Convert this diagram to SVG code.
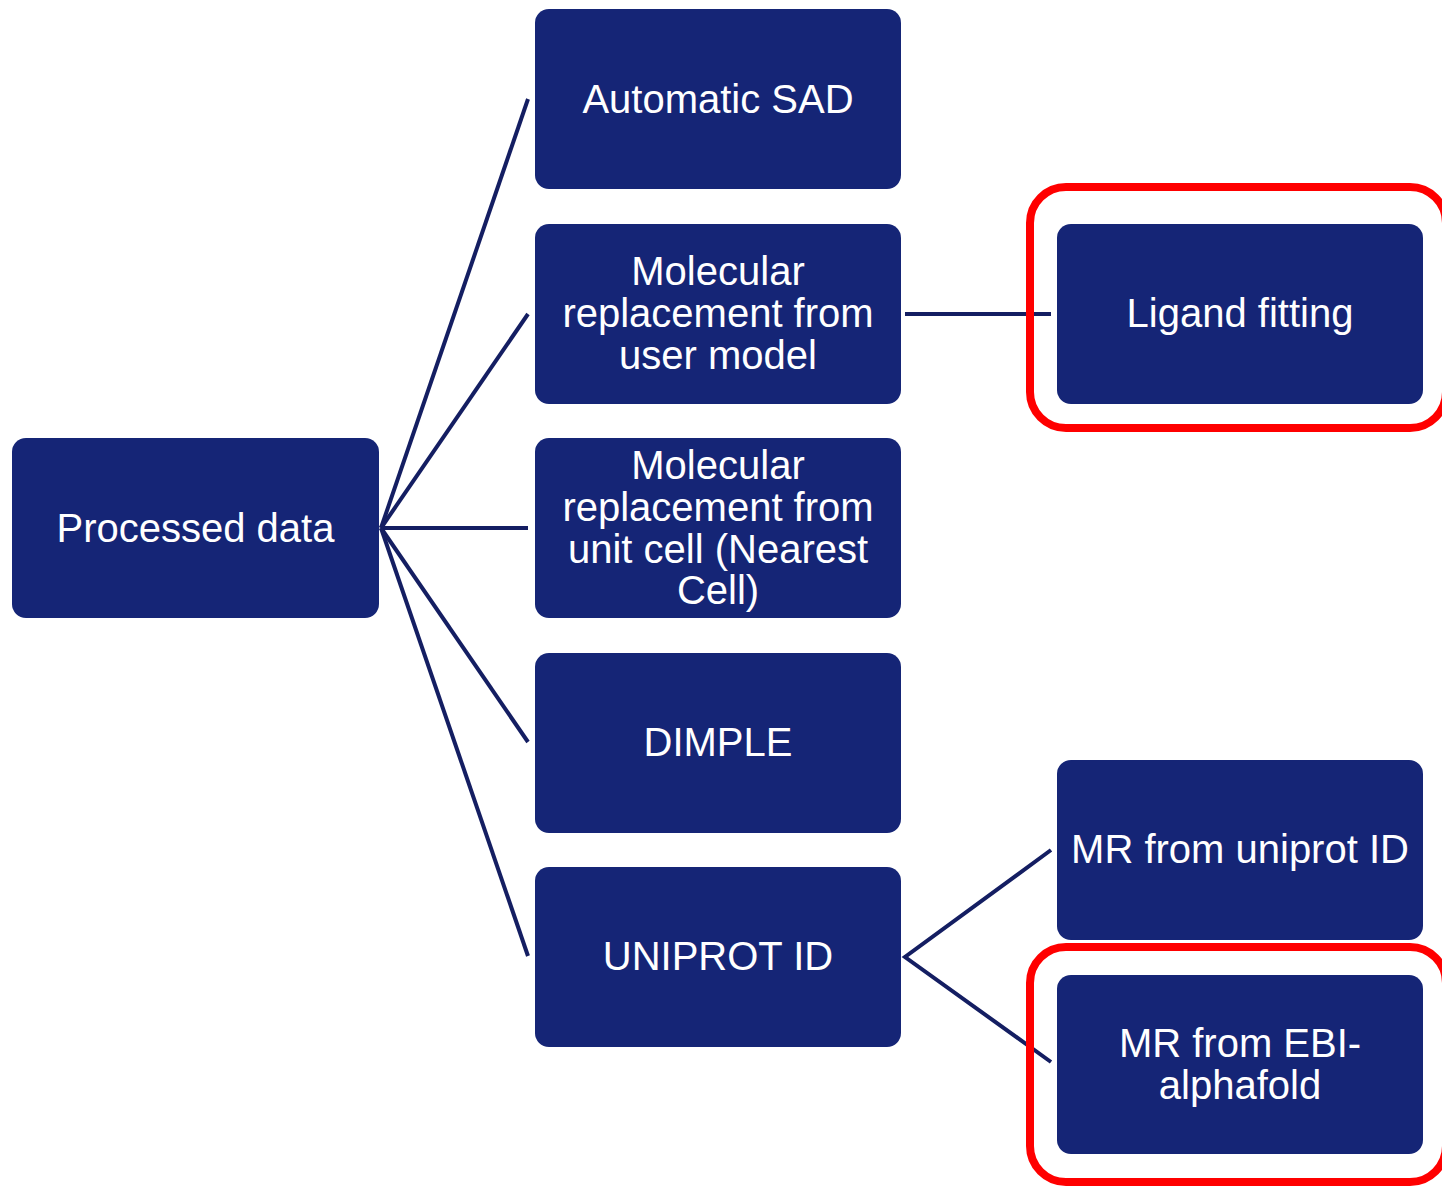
<svg xmlns="http://www.w3.org/2000/svg" width="1442" height="1186" viewBox="0 0 1442 1186">
<style>
.box{fill:#152576}
.lbl{font-family:"Liberation Sans",Arial,sans-serif;font-size:40px;fill:#ffffff;text-anchor:middle}
.con{stroke:#141e62;stroke-width:4;fill:none}
.hl{fill:none;stroke:#ff0000;stroke-width:8}
</style>
<rect width="1442" height="1186" fill="#ffffff"/>
<g id="connectors">
<line class="con" x1="381" y1="528" x2="528" y2="99"/>
<line class="con" x1="381" y1="528" x2="528" y2="314"/>
<line class="con" x1="381" y1="528" x2="528" y2="528"/>
<line class="con" x1="381" y1="528" x2="528" y2="742"/>
<line class="con" x1="381" y1="528" x2="528" y2="956"/>
<line class="con" x1="905" y1="314" x2="1051" y2="314"/>
<polyline class="con" points="1051,850 905,957 1051,1062"/>
</g>
<g id="n-processed"><rect class="box" x="12" y="438" width="367" height="180" rx="14"/><text class="lbl" x="195.5" y="542">Processed data</text></g>
<g id="n-sad"><rect class="box" x="535" y="9" width="366" height="180" rx="14"/><text class="lbl" x="718" y="113">Automatic SAD</text></g>
<g id="n-mruser"><rect class="box" x="535" y="224" width="366" height="180" rx="14"/><text class="lbl" x="718"><tspan x="718" y="285">Molecular</tspan><tspan x="718" y="327">replacement from</tspan><tspan x="718" y="369">user model</tspan></text></g>
<g id="n-mrcell"><rect class="box" x="535" y="438" width="366" height="180" rx="14"/><text class="lbl" x="718"><tspan x="718" y="479">Molecular</tspan><tspan x="718" y="521">replacement from</tspan><tspan x="718" y="563">unit cell (Nearest</tspan><tspan x="718" y="604">Cell)</tspan></text></g>
<g id="n-dimple"><rect class="box" x="535" y="653" width="366" height="180" rx="14"/><text class="lbl" x="718" y="756">DIMPLE</text></g>
<g id="n-uniprot"><rect class="box" x="535" y="867" width="366" height="180" rx="14"/><text class="lbl" x="718" y="970">UNIPROT ID</text></g>
<g id="n-ligand"><rect class="box" x="1057" y="224" width="366" height="180" rx="14"/><text class="lbl" x="1240" y="327">Ligand fitting</text></g>
<g id="n-mruniprot"><rect class="box" x="1057" y="760" width="366" height="180" rx="14"/><text class="lbl" x="1240" y="863">MR from uniprot ID</text></g>
<g id="n-mrebi"><rect class="box" x="1057" y="975" width="366" height="179" rx="14"/><text class="lbl" x="1240"><tspan x="1240" y="1057">MR from EBI-</tspan><tspan x="1240" y="1099">alphafold</tspan></text></g>
<g id="highlights">
<rect class="hl" x="1030" y="187" width="416" height="241" rx="36"/>
<rect class="hl" x="1030" y="947" width="416" height="235" rx="36"/>
</g>
</svg>
